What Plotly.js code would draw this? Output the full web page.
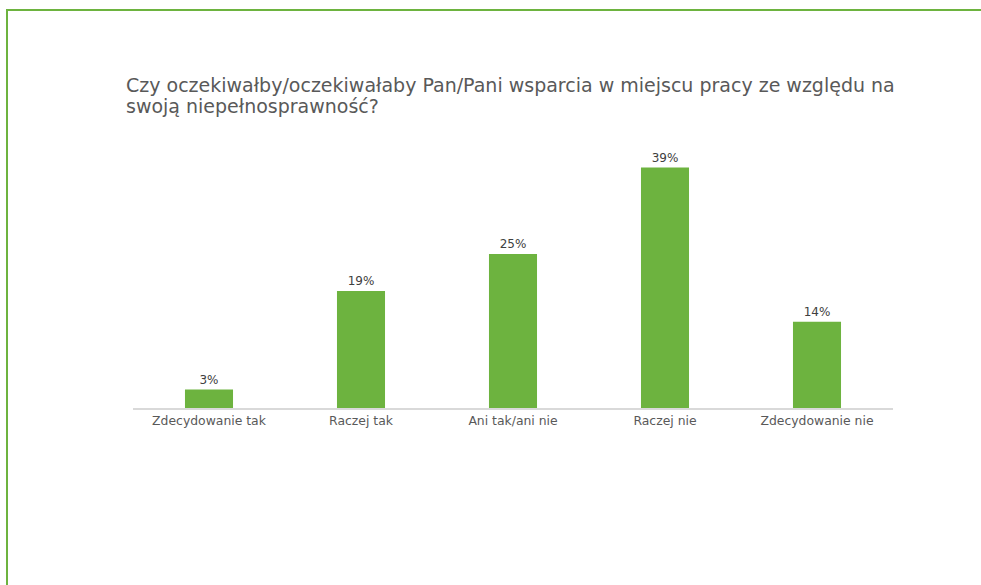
<!DOCTYPE html>
<html>
<head>
<meta charset="utf-8">
<script src="https://cdn.plot.ly/plotly-3.0.1.min.js"></script>
<style>
html,body{margin:0;padding:0;background:#fff;}
#wrap{position:relative;width:981px;height:585px;overflow:hidden;}
#chart{position:absolute;left:0;top:0;width:981px;height:585px;}
#frame{position:absolute;left:6px;top:9px;width:990px;height:600px;border-left:2px solid #6db33f;border-top:2px solid #6db33f;pointer-events:none;}
</style>
</head>
<body>
<div id="wrap"><div id="chart"></div><div id="frame"></div></div>
<script>
const categories = ["Zdecydowanie tak", "Raczej tak", "Ani tak/ani nie", "Raczej nie", "Zdecydowanie nie"];
const values = [3, 19, 25, 39, 14];
const labels = values.map(v => v + "%");
const titleLines = ["Czy oczekiwałby/oczekiwałaby Pan/Pani wsparcia w miejscu pracy ze względu na", "swoją niepełnosprawność?"];

const FONT = "DejaVu Sans, sans-serif";
const trace = {
  type: "bar",
  x: categories,
  y: values,
  text: labels,
  textposition: "outside",
  cliponaxis: false,
  textfont: {family: FONT, size: 12, color: "#404040"},
  marker: {color: "#6db33f"},
  hoverinfo: "none"
};

const plotTop = 130, plotBottom = 408, plotLeft = 133, plotRight = 893;
const ph = plotBottom - plotTop, pw = plotRight - plotLeft;
const titleY = [85, 106];

const layout = {
  width: 981,
  height: 585,
  margin: {l: plotLeft, r: 981 - plotRight, t: plotTop, b: 585 - plotBottom},
  paper_bgcolor: "#ffffff",
  plot_bgcolor: "#ffffff",
  showlegend: false,
  bargap: 0.684,
  annotations: titleLines.map((t, i) => ({
    text: t, showarrow: false,
    xref: "paper", yref: "paper",
    x: (124 - plotLeft) / pw, xanchor: "left",
    y: (plotBottom - titleY[i]) / ph, yanchor: "middle",
    font: {family: FONT, size: 19, color: "#595959"}
  })),
  xaxis: {
    showline: true, linecolor: "#d9d9d9", linewidth: 2,
    ticks: "", showgrid: false, zeroline: false,
    tickfont: {family: FONT, size: 12.4, color: "#595959"},
    fixedrange: true
  },
  yaxis: {
    visible: false, range: [0, 45.1], showgrid: false, zeroline: false, fixedrange: true
  }
};

Plotly.newPlot("chart", [trace], layout, {displayModeBar: false, staticPlot: true});
</script>
</body>
</html>
